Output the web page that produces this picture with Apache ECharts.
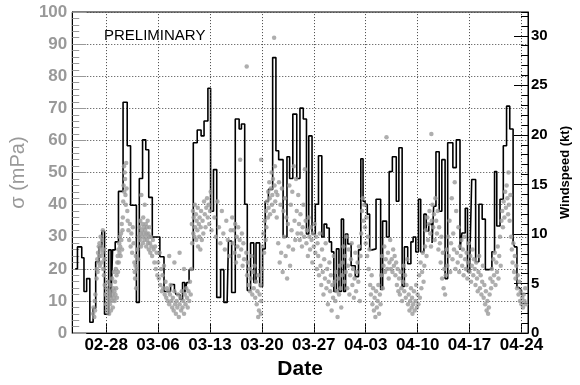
<!DOCTYPE html>
<html>
<head>
<meta charset="utf-8">
<script src="https://cdn.jsdelivr.net/npm/echarts@6/dist/echarts.min.js"></script>
<style>
html, body {margin: 0; padding: 0; background: #fff;}
#chart {width: 580px; height: 385px;}
</style>
</head>
<body>
<div id="chart"></div>
<script>
// x values are days counted from 02-28
const tickDays = [0, 7, 14, 21, 28, 35, 42, 49, 56];
const tickLabels = ['02-28', '03-06', '03-13', '03-20', '03-27', '04-03', '04-10', '04-17', '04-24'];

// windspeed histogram: left edge of each bin (days) and its height (kt)
const windDays = [-4.17,-3.87,-3.29,-2.99,-2.63,-2.20,-1.76,-1.41,-0.97,-0.58,
  -0.22,0.34,0.66,0.87,1.22,1.66,2.28,2.84,3.29,4.08,
  4.47,4.91,5.34,5.74,6.22,7.24,7.80,8.68,9.21,9.42,
  9.95,10.30,10.61,10.87,11.18,11.75,12.28,12.80,13.20,13.72,
  14.08,14.47,14.91,15.43,15.87,16.32,16.49,16.92,17.41,17.93,
  18.24,18.68,19.03,19.47,19.91,20.21,20.70,21.09,21.45,21.88,
  22.45,22.89,23.26,23.86,24.38,24.74,25.17,25.70,26.13,26.58,
  27.01,27.32,27.76,28.20,28.63,29.08,29.38,29.74,30.08,30.39,
  30.70,31.05,31.39,31.71,32.01,32.28,32.58,33.03,33.59,34.03,
  34.34,34.64,34.91,35.21,35.53,35.87,36.39,37.01,37.28,37.80,
  38.16,38.59,39.12,39.47,39.91,40.21,40.66,41.09,41.39,41.75,
  42.11,42.41,42.84,43.16,43.50,43.95,44.16,44.47,44.91,45.26,
  45.70,46.05,46.75,47.21,47.71,47.97,48.42,48.72,49.03,49.29,
  49.82,50.26,50.70,51.13,51.58,52.01,52.37,52.67,53.11,53.55,
  53.99,54.42,54.87,55.08,55.39,55.66,55.96];
const windKt = [6.5,8.7,7.6,4.2,5.5,1.1,2.5,7.2,8.7,10.3,
  1.9,8.4,3.6,8.4,9.2,14.3,23.3,18.9,12.9,3.1,
  15.6,19.5,18.5,13.7,9.7,7.7,4.2,4.9,4.4,3.9,
  3.4,5.1,4.1,5.1,6.4,19.2,20.5,19.9,21.4,24.7,
  12.3,16.5,3.6,6.4,3.1,3.4,9.3,4.1,21.6,20.6,
  21.1,13.0,4.3,9.1,5.1,9.1,4.7,8.5,13.3,14.5,
  27.8,18.4,17.5,9.7,17.8,15.6,22.1,15.6,22.7,21.6,
  10.0,19.9,10.0,13.0,17.9,9.7,11.0,10.6,9.2,8.2,
  4.2,8.5,4.2,11.5,4.2,10.0,9.0,6.8,5.7,8.4,
  17.6,13.3,13.0,12.0,8.4,8.5,13.5,4.4,11.3,9.7,
  16.3,17.8,13.3,18.7,4.7,8.7,7.0,9.2,9.7,8.2,
  13.5,8.2,12.0,10.3,11.0,9.1,12.8,18.3,12.3,17.5,
  5.5,19.2,16.7,19.5,8.4,10.1,12.6,6.2,7.2,15.5,
  7.2,13.0,11.5,6.4,6.5,8.2,16.3,10.8,13.5,18.9,
  22.9,20.6,9.1,8.7,4.6,4.4,3.9];
const windEnd = 56.16;

// sigma measurements: [day, sigma in mPa]
const sigmaPoints = [
  [-1.75,6],[-1.7,8],[-1.6,5],[-1.55,10],[-1.5,7],[-1.45,12],
  [-1.3,17],[-1.25,20],[-1.2,23],[-1.15,19],[-1.1,25],[-1.05,22],[-1.0,27],[-0.95,24],[-0.9,28],[-0.85,21],
  [-0.8,26],[-0.75,30],[-0.7,24],[-0.65,27],[-0.6,22],[-0.55,29],[-0.5,25],[-0.45,32],[-0.4,20],[-0.35,26],
  [-0.3,18],[-0.25,23],[-0.2,15],
  [-0.1,12],[0.0,9],[0.05,14],[0.1,7],[0.15,11],[0.2,16],[0.25,8],[0.3,13],[0.35,10],[0.4,6],[0.45,12],
  [0.5,9],[0.55,15],[0.6,11],[0.65,7],[0.7,13],[0.75,10],[0.8,17],[0.85,12],[0.9,8],[0.95,14],[1.0,11],
  [1.05,19],[1.1,13],[1.15,10],[1.2,16],[1.25,12],[1.3,20],[1.35,14],[1.4,18],[1.45,11],[1.5,22],
  [1.55,24],[1.6,19],[1.65,26],[1.7,22],[1.75,28],[1.8,25],[1.85,30],[1.9,27],[1.95,24],[2.0,31],
  [2.05,29],[2.1,34],[2.15,26],[2.2,32],[2.25,36],
  [2.3,41],[2.35,46],[2.4,52],[2.45,44],[2.5,50],[2.55,48],[2.6,43],[2.65,40],[2.7,53],[2.75,45],
  [2.85,38],[2.9,35],[3.0,32],[3.1,29],[3.2,34],[3.3,27],[3.4,31],[3.5,25],[3.6,33],[3.7,28],[3.8,22],
  [3.85,19],[3.9,17],[3.95,21],[4.0,24],[4.05,14],[4.1,20],[4.2,26],[4.3,23],[4.4,30],
  [4.5,33],[4.55,29],[4.6,35],[4.65,31],[4.7,27],[4.75,43],[4.8,32],[4.85,30],[4.9,34],[4.95,28],[5.0,36],
  [5.05,31],[5.1,33],[5.15,29],[5.2,40],[5.25,32],[5.3,30],[5.35,34],[5.4,27],[5.45,31],[5.5,33],[5.55,29],
  [5.6,35],[5.65,28],[5.7,31],[5.75,26],[5.8,30],[5.85,33],[5.9,28],[5.95,25],[6.0,30],[6.1,27],[6.2,24],
  [6.3,29],[6.4,26],[6.5,22],[6.6,27],[6.7,20],[6.8,25],[6.9,18],
  [7.0,22],[7.1,17],[7.2,25],[7.3,15],[7.4,20],[7.5,13],[7.6,18],[7.7,14],[7.8,21],[7.9,12],[8.0,16],
  [8.1,11],[8.2,14],[8.3,10],[8.4,13],[8.5,9],[8.6,12],[8.7,15],[8.8,10],[8.9,8],
  [8.5,24],[9.2,22],[9.9,25],[10.5,20],
  [9.0,11],[9.1,7],[9.2,13],[9.3,9],[9.4,6],[9.5,10],[9.6,8],[9.7,12],[9.8,5],[9.9,9],[10.0,11],[10.1,7],
  [10.2,13],[10.3,8],[10.4,10],[10.5,6],[10.6,12],[10.7,9],[10.8,14],[10.9,11],[11.0,8],[11.1,13],[11.2,10],
  [11.3,16],[11.4,12],
  [11.5,20],[11.55,34],[11.6,28],[11.7,38],[11.75,31],[11.8,36],[11.9,30],[11.95,40],[12.0,33],[12.1,37],
  [12.15,29],[12.2,35],[12.3,32],[12.35,39],[12.4,27],[12.5,34],[12.55,30],[12.6,36],[12.7,26],[12.75,33],
  [12.8,38],[12.9,29],[13.0,35],[13.1,31],[13.2,41],[13.3,37],[13.4,33],[13.5,39],[13.6,42],[13.7,36],
  [13.8,40],[13.9,34],[14.0,38],[14.1,44],[14.2,32],
  [14.6,36],[14.8,30],[15.0,41],[15.2,33],[15.4,28],[15.6,38],[15.8,31],[16.0,26],[16.2,35],[16.4,29],
  [16.6,24],[16.8,32],
  [17.0,36],[17.1,28],[17.2,32],[17.3,25],[17.4,34],[17.5,22],[17.6,30],[17.7,27],[17.8,33],[17.9,24],
  [18.0,29],[18.07,54],[18.2,26],[18.3,31],[18.4,21],[18.5,28],[18.6,23],[18.95,83],
  [18.9,25],[19.0,18],[19.1,22],[19.2,15],[19.3,20],[19.4,13],[19.5,17],[19.6,24],[19.7,12],[19.8,19],
  [19.9,14],[20.0,21],[20.1,11],[20.2,16],[20.3,9],[20.4,13],[20.5,18],[20.6,7],[20.7,12],[20.8,15],
  [20.9,10],[21.0,20],[20.5,5],[20.85,6],[20.9,54],
  [21.1,27],[21.2,31],[21.3,25],[21.4,35],[21.5,29],[21.55,38],[21.6,33],[21.7,41],[21.8,36],[21.85,44],
  [21.9,39],[22.0,47],[22.05,42],[22.1,37],[22.2,45],[22.3,50],[22.35,40],[22.4,43],[22.5,48],[22.6,38],
  [22.7,46],[22.75,52],[22.8,41],[22.9,44],[22.65,92],
  [23.0,36],[23.1,43],[23.2,28],[23.3,47],[23.4,22],[23.5,40],[23.6,25],[23.7,45],[23.8,19],[23.9,38],
  [24.0,30],[24.1,42],[24.2,24],[24.3,36],[24.4,17],[24.5,34],[24.6,27],[24.7,46],[24.8,21],[24.9,40],
  [25.0,32],[25.1,44],[25.2,26],[25.3,52],[25.4,35],[25.5,29],[25.6,48],[25.7,38],[25.8,31],[25.9,43],
  [26.0,34],[26.1,29],[26.2,37],[26.3,31],[26.4,27],[26.5,33],[26.6,40],[26.7,30],[26.8,51],[26.9,35],
  [27.0,28],[27.1,32],[27.2,24],[27.3,36],[27.4,30],[27.5,26],[27.6,33],[27.7,29],[27.8,22],[27.9,31],
  [28.0,27],[28.1,34],[28.2,25],[28.3,30],[28.4,20],[28.5,28],
  [28.6,24],[28.7,18],[28.8,31],[28.9,21],[29.0,15],[29.1,26],[29.2,19],[29.3,12],[29.4,23],[29.5,17],
  [29.6,28],[29.7,14],[29.8,20],[29.9,9],[30.0,16],[30.1,22],[30.2,13],[30.3,18],[30.4,7],[30.5,15],
  [30.6,11],[30.7,24],[30.8,16],[30.9,10],[31.0,19],[31.1,13],[31.2,5],[31.3,17],[31.4,12],[31.5,21],
  [31.6,14],[31.7,8],[31.8,18],
  [31.9,22],[32.0,27],[32.1,16],[32.2,24],[32.3,19],[32.4,30],[32.5,14],[32.6,21],[32.7,26],[32.8,12],
  [32.9,18],[33.0,23],[33.1,28],[33.2,15],[33.3,20],[33.4,11],[33.5,17],[33.6,25],[33.7,13],[33.8,19],
  [33.9,22],[34.0,16],[34.1,27],[34.2,10],[34.3,24],[34.4,31],
  [34.5,38],[34.6,42],[34.7,35],[34.8,40],[34.9,33],[35.0,28],[35.1,36],[35.2,24],[35.3,30],[35.4,20],
  [35.5,26],[35.6,15],[35.7,12],[35.8,18],[35.9,9],[36.0,14],[36.1,7],[36.2,11],[36.3,5],[36.4,13],
  [36.5,8],[36.6,10],[36.7,15],[36.8,6],[36.9,12],[37.0,9],
  [37.1,18],[37.2,24],[37.3,14],[37.4,21],[37.5,27],[37.6,19],[37.7,23],[37.8,61],[37.9,20],[38.0,25],
  [38.1,17],[38.2,22],[38.3,29],[38.4,20],[38.5,23],[38.6,19],[38.7,26],[38.8,21],[38.9,24],[39.0,18],
  [39.1,22],[39.2,15],[39.3,20],[39.4,13],
  [39.5,17],[39.6,12],[39.7,19],[39.8,14],[39.9,10],[40.0,16],[40.1,21],[40.2,13],[40.3,18],[40.4,11],
  [40.5,15],[40.6,23],[40.7,9],[40.8,12],[40.9,7],[41.0,10],[41.1,14],[41.2,8],[41.25,11],[41.3,6],
  [41.4,9],[41.5,13],[41.6,7],[41.7,10],[41.8,15],[41.9,8],[42.0,12],[42.1,9],[42.2,18],[42.3,11],
  [42.4,22],[42.5,14],[42.6,19],[42.7,25],[42.8,16],[42.9,21],
  [43.0,27],[43.1,32],[43.2,24],[43.3,36],[43.4,29],[43.5,34],[43.6,38],[43.7,31],[43.8,27],[43.85,62],
  [43.9,35],[44.0,40],[44.1,33],[44.2,37],[44.3,29],[44.4,42],[44.5,35],[44.6,31],[44.7,38],[44.8,26],
  [44.9,33],[45.0,28],[45.1,22],[45.2,30],[45.3,17],[45.4,25],[45.5,14],[45.6,20],[45.7,12],
  [45.8,18],[45.9,26],[46.0,21],[46.1,30],[46.2,24],[46.3,35],[46.4,19],[46.5,28],[46.6,42],[46.7,23],
  [46.8,31],[46.9,26],[47.0,47],[47.1,20],[47.2,38],[47.3,25],[47.4,22],[47.5,33],[47.6,19],[47.7,27],
  [47.8,24],[47.9,29],[48.0,21],[48.1,26],[48.2,18],[48.3,30],[48.4,23],[48.5,20],[48.6,25],[48.7,17],
  [48.8,22],[48.9,28],[49.0,19],[49.1,24],[49.2,16],[49.3,21],[49.4,26],[49.5,18],[49.6,23],
  [49.7,20],[49.8,15],[49.9,22],[50.0,17],[50.1,13],[50.2,19],[50.3,24],[50.4,14],[50.5,18],[50.6,12],
  [50.7,16],[50.8,21],[50.9,11],[51.0,15],[51.1,9],[51.2,13],[51.3,7],[51.4,10],[51.5,6],[51.6,8],
  [51.7,12],[51.8,17],[51.9,14],[52.0,20],[52.1,16],[52.2,23],[52.3,18],[52.4,25],
  [52.5,15],[52.6,22],[52.7,19],[52.8,27],[52.9,17],[53.0,24],[53.1,30],[53.2,21],[53.3,35],[53.4,38],
  [53.5,33],[53.6,41],[53.7,36],[53.8,44],[53.9,39],[54.0,46],[54.1,42],[54.2,37],[54.25,50],[54.3,40],
  [54.4,35],[54.5,43],
  [54.6,30],[54.7,26],[54.8,22],[54.9,28],[55.0,19],[55.1,24],[55.2,17],[55.3,21],[55.4,14],[55.5,18],
  [55.6,12],[55.7,16],[55.8,10],[55.9,13],[56.0,9],[56.1,11],[56.2,8],[56.3,12],[56.4,10],[56.5,14],[56.6,9]
];

const font = '"Liberation Sans", Arial, Helvetica, sans-serif';
const chart = echarts.init(document.getElementById('chart'));

const windLine = windDays.map((d, i) => [d, windKt[i]]);
windLine.push([windEnd, windKt[windKt.length - 1]]);

const dottedStyle = {color: '#444', type: [1, 2], width: 1};

chart.setOption({
    animation: false,
    backgroundColor: '#fff',
    textStyle: {fontFamily: font},
    grid: {left: 68, right: 45, top: 12, bottom: 46, show: true, borderColor: '#000', borderWidth: 1},
    graphic: [{
        type: 'text', left: 104, top: 28,
        style: {text: 'PRELIMINARY', font: '15px ' + font, fill: '#000'}
    }],
    xAxis: {
        type: 'value', min: -4.57, max: 56.88,
        name: 'Date', nameLocation: 'middle', nameGap: 22,
        nameTextStyle: {fontSize: 21, fontWeight: 'bold', color: '#000'},
        axisLine: {onZero: false, lineStyle: {color: '#000', width: 1}},
        axisTick: {inside: true, length: 10, customValues: tickDays, lineStyle: {color: '#000'}},
        axisLabel: {
            customValues: tickDays,
            formatter: v => tickLabels[tickDays.indexOf(v)],
            fontSize: 17, fontWeight: 'bold', color: '#000', margin: 4
        },
        splitLine: {show: false}
    },
    yAxis: [{
        type: 'value', min: 0, max: 100, interval: 10, position: 'left',
        name: 'σ (mPa)', nameLocation: 'middle', nameGap: 36,
        nameTextStyle: {fontSize: 20, color: '#999'},
        axisLine: {show: true, onZero: false, lineStyle: {color: '#000'}},
        axisTick: {inside: true, length: 14, lineStyle: {color: '#999'}},
        minorTick: {show: true, splitNumber: 5, length: 7, lineStyle: {color: '#999'}},
        axisLabel: {fontSize: 17, fontWeight: 'bold', color: '#999', margin: 5},
        splitLine: {show: true, lineStyle: dottedStyle}
    }, {
        type: 'value', min: 0, max: 32.4, interval: 5, position: 'right',
        name: 'Windspeed (kt)', nameLocation: 'middle', nameGap: 31,
        nameTextStyle: {fontSize: 13, fontWeight: 'bold', color: '#000'},
        axisLine: {show: true, onZero: false, lineStyle: {color: '#000'}},
        axisTick: {inside: true, length: 14, lineStyle: {color: '#000'}},
        axisLabel: {fontSize: 15, fontWeight: 'bold', color: '#000', margin: 3, showMaxLabel: false},
        splitLine: {show: false}
    }, {
        type: 'value', min: 0, max: 32.4, interval: 1, position: 'right',
        axisLine: {show: false, onZero: false},
        axisTick: {inside: true, length: 7, lineStyle: {color: '#000'}},
        axisLabel: {show: false},
        splitLine: {show: false}
    }],
    series: [{
        type: 'line', yAxisIndex: 1, step: 'end', data: windLine,
        showSymbol: false, lineStyle: {color: '#000', width: 1.6}, z: 2,
        markLine: {
            silent: true, symbol: 'none', label: {show: false},
            lineStyle: dottedStyle,
            data: tickDays.map(d => ({xAxis: d}))
        }
    }, {
        type: 'scatter', yAxisIndex: 0, data: sigmaPoints,
        symbolSize: 4.5, itemStyle: {color: '#9a9a9a'}, z: 3
    }]
});
</script>
</body>
</html>
